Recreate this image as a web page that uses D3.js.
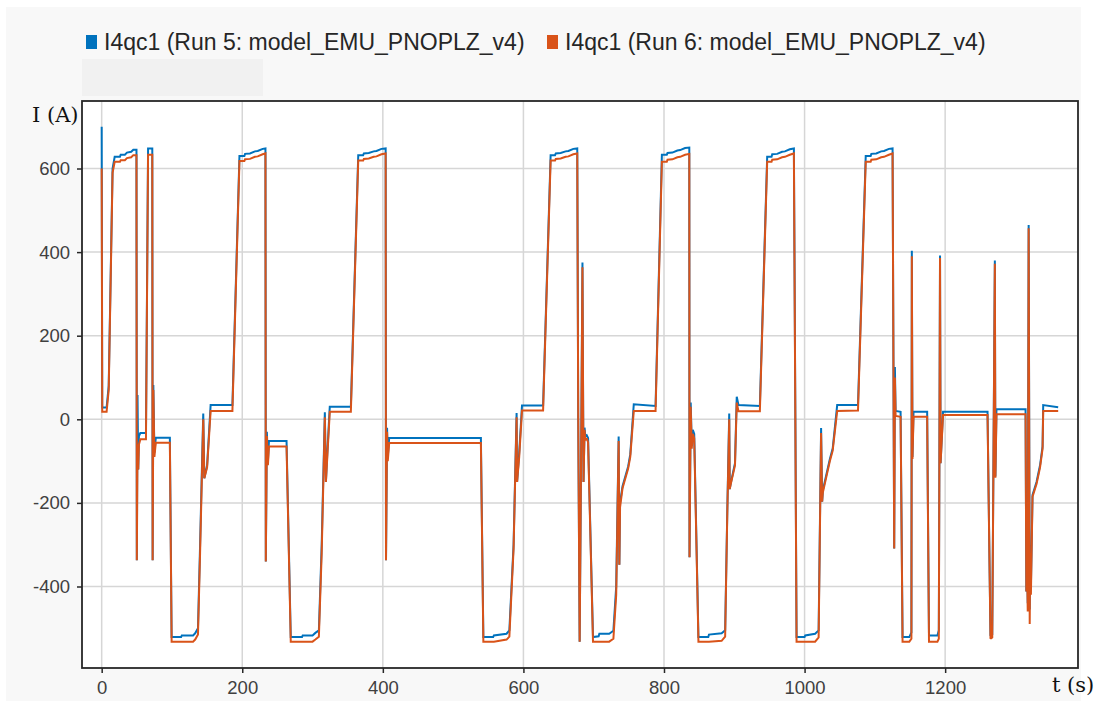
<!DOCTYPE html>
<html>
<head>
<meta charset="utf-8">
<script src="https://cdn.jsdelivr.net/npm/d3@7"></script>
<style>
  html, body { margin: 0; padding: 0; background: #ffffff; }
  svg { display: block; }
</style>
</head>
<body>
<svg id="chart" width="1094" height="701"></svg>
<script>
// Signal I4qc1 logged in two simulation runs: time (s) and current (A)
const time = [
  0, 0.8, 7, 10, 15.5, 18.5, 26, 27, 33, 36, 42, 45, 49.5,
  50, 51, 52, 53, 55, 63, 66, 72,
  72.5, 73.5, 75, 77, 97,
  99.5, 113, 114, 130, 133, 137, 140,
  144.5, 146, 150, 155, 186,
  196, 203, 204, 211, 218, 222, 229, 233,
  233.5, 235, 236.5, 238, 263,
  269, 285, 286, 300, 304, 309, 313,
  317.5, 319, 321, 324.5, 354.5,
  365, 372, 373, 380, 387, 391, 398, 404,
  404.5, 406, 407, 409, 539.5,
  543, 557, 558, 576, 580, 586,
  590.3, 591, 594, 598, 628,
  638.7, 645, 646, 653, 660, 664, 671, 676.6,
  678, 680, 682, 684, 685.5, 687, 688, 690, 692,
  699, 707, 708, 722, 728, 732,
  735.5, 736.5, 737.5, 741, 749, 752, 757, 788,
  797, 804, 805, 812, 819, 823, 830, 836,
  836.3, 838, 839.5, 841, 843,
  849, 863, 864, 882, 887, 890,
  892.8, 893.5, 895, 901, 903.5, 906, 936.4,
  946.8, 953, 954, 961, 968, 972, 979, 984.8,
  988.6, 1000, 1001, 1015, 1020,
  1023.5, 1025, 1026, 1030, 1036, 1040, 1046.4, 1076,
  1087, 1094, 1095, 1102, 1109, 1113, 1120, 1125.2,
  1127.5, 1128.5, 1129.5, 1136.6,
  1139.4, 1149, 1152, 1152.6, 1153.5, 1155, 1174.4,
  1177, 1189, 1191, 1192.7, 1193.5, 1197, 1260.3,
  1264.5, 1267, 1270.7, 1271.5, 1273, 1314.4,
  1315.5, 1316.5, 1317.5, 1318.8, 1320.3, 1321, 1322, 1324.3,
  1330, 1335, 1338.6, 1339.5, 1360.8
];

// Run 5: model_EMU_PNOPLZ_v4
const run5 = [
  700, 28, 28, 80, 600, 628, 628, 633, 633, 638, 640, 645, 645,
  -337, 58, -120, -40, -33, -33, 648, 648,
  -337, 82, -80, -44, -44,
  -521, -521, -517, -517, -512, -500, -300,
  14, -141, -110, 34, 34,
  630, 630, 635, 636, 641, 642, 647, 648,
  -340, -30, -100, -52, -52,
  -521, -521, -517, -517, -511, -505, -300,
  17, -150, -80, 30, 30,
  632, 632, 636, 637, 641, 642, 647, 648,
  -337, -20, -90, -45, -45,
  -521, -521, -517, -513, -505, -300,
  15, -150, -80, 33, 33,
  632, 632, 636, 637, 641, 642, 647, 648,
  0, -532, -100, 375, -150, -20, -40, -38, -45,
  -521, -519, -513, -513, -506, -400,
  -41, -348, -200, -160, -113, -84, 36, 32,
  633, 633, 637, 638, 643, 644, 649, 650,
  -330, 40, -60, -25, -35,
  -521, -521, -515, -512, -505, -224,
  14, -167, -153, -105, 54, 34, 32,
  628, 628, 634, 635, 640, 641, 646, 648,
  -521, -521, -517, -513, -505,
  -21, -197, -170, -140, -95, -70, 34, 34,
  630, 630, 635, 636, 641, 642, 647, 648,
  -309, 125, 20, 18,
  -521, -521, -510, 403, -90, 18, 18,
  -517, -517, -505, 392, -105, 18, 18,
  -518, -515, 380, -137, 24, 24,
  -412, -300, -440, 465, -455, -300, -400, -181,
  -150, -110, -65, 34, 29
];

// Run 6: model_EMU_PNOPLZ_v4
const run6 = [
  600, 18, 18, 70, 590, 616, 616, 620, 620, 625, 627, 632, 632,
  -337, -60, -120, -60, -48, -48, 633, 633,
  -337, 70, -90, -56, -56,
  -532, -532, -532, -532, -527, -515, -320,
  0, -141, -115, 20, 20,
  618, 618, 622, 623, 628, 629, 634, 636,
  -340, -40, -110, -65, -65,
  -532, -532, -532, -532, -527, -520, -320,
  5, -150, -90, 18, 18,
  619, 619, 623, 624, 628, 629, 634, 636,
  -337, -30, -100, -57, -57,
  -532, -532, -532, -527, -520, -310,
  5, -150, -90, 21, 21,
  619, 619, 623, 624, 628, 629, 634, 636,
  0, -532, -110, 364, -150, -25, -50, -45, -55,
  -532, -532, -532, -532, -525, -420,
  -52, -348, -210, -165, -118, -90, 20, 20,
  616, 616, 621, 622, 627, 628, 633, 635,
  -330, 30, -70, -35, -45,
  -532, -532, -532, -530, -520, -230,
  0, -167, -155, -110, 40, 19, 19,
  616, 616, 621, 622, 627, 628, 633, 636,
  -532, -532, -532, -532, -522,
  -33, -197, -175, -145, -100, -75, 20, 21,
  616, 616, 621, 622, 627, 628, 633, 636,
  -309, 100, 8, 6,
  -532, -532, -525, 390, -95, 6, 6,
  -532, -532, -525, 386, -105, 10, 10,
  -525, -522, 372, -140, 12, 12,
  -412, -350, -460, 457, -490, -320, -420, -185,
  -155, -115, -70, 20, 20
];

const seriesNames = [
  "I4qc1 (Run 5: model_EMU_PNOPLZ_v4)",
  "I4qc1 (Run 6: model_EMU_PNOPLZ_v4)"
];
const seriesColors = ["#0072bd", "#d95319"];
const xTicks = [0, 200, 400, 600, 800, 1000, 1200];
const yTicks = [-400, -200, 0, 200, 400, 600];
const xDomain = [-28, 1389];
const yDomain = [-595, 761.5];

const svg = d3.select("#chart");
const W = 1094, H = 701;
const plot = { left: 82, right: 1078, top: 101, bottom: 668 };

// panel background
svg.append("rect").attr("x", 6).attr("y", 7).attr("width", 1075).attr("height", H - 7)
  .attr("fill", "#f8f8f8");
svg.append("rect").attr("x", 82).attr("y", 59).attr("width", 181).attr("height", 37)
  .attr("fill", "#f1f1f1");

// legend
const legend = svg.append("g").attr("font-family", "'Liberation Sans', Arial, sans-serif")
  .attr("font-size", 23).attr("fill", "#262626");
const legendX = [86, 547];
seriesNames.forEach((name, i) => {
  legend.append("rect").attr("x", legendX[i]).attr("y", 35).attr("width", 11).attr("height", 14)
    .attr("fill", seriesColors[i]);
  legend.append("text").attr("x", legendX[i] + 18).attr("y", 50).text(name);
});

const x = d3.scaleLinear().domain(xDomain).range([plot.left, plot.right]);
const y = d3.scaleLinear().domain(yDomain).range([plot.bottom, plot.top]);

// plot area
svg.append("rect").attr("x", plot.left).attr("y", plot.top)
  .attr("width", plot.right - plot.left).attr("height", plot.bottom - plot.top)
  .attr("fill", "#ffffff");

// grid
const grid = svg.append("g").attr("stroke", "#d6d6d6").attr("stroke-width", 1.5);
grid.selectAll("line.gx").data(xTicks).join("line").attr("class", "gx")
  .attr("x1", d => x(d)).attr("x2", d => x(d)).attr("y1", plot.top).attr("y2", plot.bottom);
grid.selectAll("line.gy").data(yTicks).join("line").attr("class", "gy")
  .attr("y1", d => y(d)).attr("y2", d => y(d)).attr("x1", plot.left).attr("x2", plot.right);

// series
svg.append("clipPath").attr("id", "clip").append("rect")
  .attr("x", plot.left).attr("y", plot.top)
  .attr("width", plot.right - plot.left).attr("height", plot.bottom - plot.top);

const lineGen = vals => d3.line()
  .x((d, i) => x(time[i]))
  .y(d => y(d))(vals);

const lines = svg.append("g").attr("clip-path", "url(#clip)");
[run5, run6].forEach((vals, i) => {
  lines.append("path").attr("d", lineGen(vals))
    .attr("fill", "none").attr("stroke", seriesColors[i])
    .attr("stroke-width", 2).attr("stroke-linejoin", "miter").attr("stroke-miterlimit", 2);
});

// axes
const axisFont = "'Liberation Sans', Arial, sans-serif";
const plainNumber = d => String(d);
const xAxis = svg.append("g").attr("transform", `translate(0,${plot.bottom})`)
  .call(d3.axisBottom(x).tickValues(xTicks).tickFormat(plainNumber)
    .tickSize(5).tickPadding(8).tickSizeOuter(0));
const yAxis = svg.append("g").attr("transform", `translate(${plot.left},0)`)
  .call(d3.axisLeft(y).tickValues(yTicks).tickFormat(plainNumber)
    .tickSize(5).tickPadding(7).tickSizeOuter(0));
[xAxis, yAxis].forEach(g => {
  g.select(".domain").remove();
  g.selectAll(".tick line").attr("stroke", "#262626").attr("stroke-width", 1.5);
  g.selectAll(".tick text").attr("font-family", axisFont).attr("font-size", 18.5)
    .attr("fill", "#404040");
});

// frame
svg.append("rect").attr("x", plot.left).attr("y", plot.top)
  .attr("width", plot.right - plot.left).attr("height", plot.bottom - plot.top)
  .attr("fill", "none").attr("stroke", "#262626").attr("stroke-width", 1.8);

// axis titles
svg.append("text").attr("x", 32).attr("y", 122)
  .attr("font-family", "'DejaVu Serif', 'Liberation Serif', serif").attr("font-size", 21)
  .attr("fill", "#111").text("I (A)");
svg.append("text").attr("x", 1052).attr("y", 692)
  .attr("font-family", "'DejaVu Serif', 'Liberation Serif', serif").attr("font-size", 21)
  .attr("fill", "#111").text("t (s)");
</script>
</body>
</html>
